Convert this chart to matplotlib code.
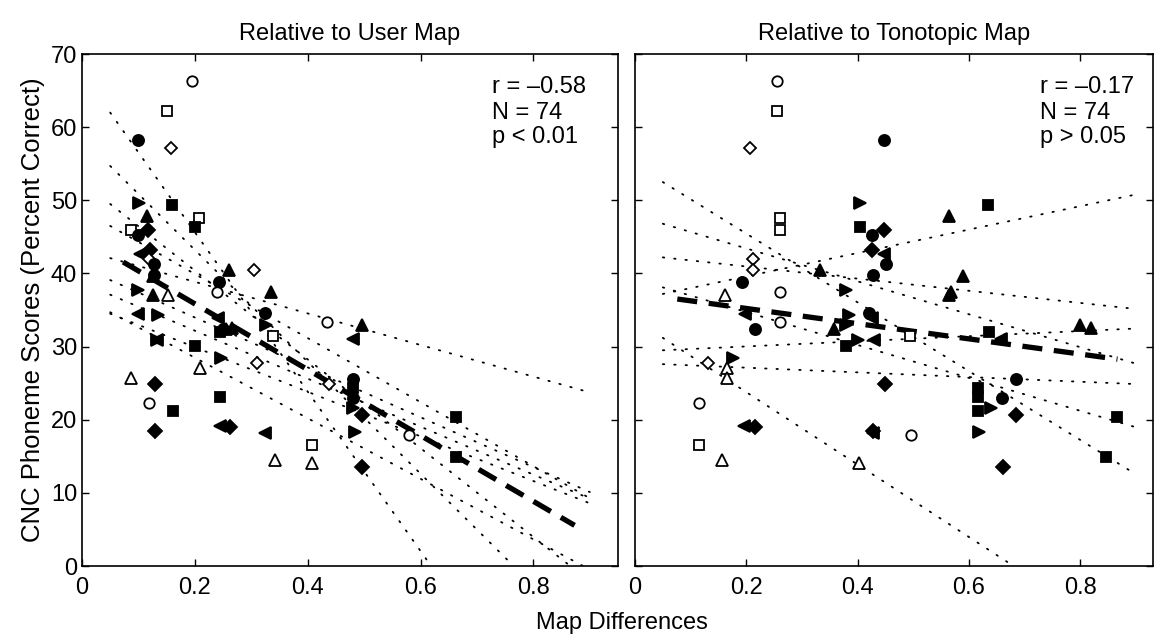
import matplotlib
matplotlib.use("Agg")
import matplotlib.pyplot as plt
import numpy as np

plt.rcParams['font.family'] = ['Liberation Sans', 'DejaVu Sans']

# ---------------- data ----------------
# one entry per subject-condition point: CNC score, map difference (user map), map difference (tonotopic map)
marker_codes = ['oc', 'os', 'fc', 'od', 'fr', 'fs', 'ft', 'os', 'fs', 'os',
                'fd', 'fc', 'fd', 'fl', 'od', 'fc', 'od', 'ft', 'fc', 'ft',
                'fc', 'fr', 'ft', 'oc', 'ot', 'ft', 'fl', 'fr', 'fc', 'fl',
                'oc', 'fr', 'ft', 'ft', 'fc', 'ft', 'fs', 'os', 'fl', 'fr',
                'fl', 'fs', 'fr', 'od', 'ot', 'ot', 'fc', 'od', 'fd', 'fs',
                'fs', 'fc', 'oc', 'fr', 'fs', 'fd', 'fs', 'fl', 'fd', 'fd',
                'fr', 'fl', 'oc', 'os', 'fs', 'ot', 'ot', 'fd']
cnc_score = [66.3, 62.2, 58.2, 57.1, 49.7, 49.4, 47.9, 47.6, 46.3, 46.0,
             45.9, 45.2, 43.2, 42.6, 42.0, 41.3, 40.5, 40.5, 39.8, 39.6,
             38.8, 37.8, 37.4, 37.4, 37.0, 37.0, 34.5, 34.3, 34.6, 33.9,
             33.3, 32.9, 33.0, 32.6, 32.4, 32.4, 32.0, 31.4, 31.0, 30.9,
             30.9, 30.1, 28.4, 27.7, 27.1, 25.7, 25.6, 24.9, 24.9, 24.3,
             23.1, 23.0, 22.3, 21.6, 21.2, 20.6, 20.4, 19.1, 19.0, 18.5,
             18.3, 18.2, 17.9, 16.5, 14.9, 14.5, 14.1, 13.5]
user_diff = [0.195, 0.150, 0.099, 0.158, 0.101, 0.159, 0.115, 0.207, 0.200, 0.087,
             0.117, 0.099, 0.120, 0.103, 0.118, 0.128, 0.304, 0.260, 0.128, 0.125,
             0.242, 0.099, 0.335, 0.240, 0.152, 0.126, 0.099, 0.135, 0.324, 0.241,
             0.435, 0.327, 0.496, 0.265, 0.250, 0.255, 0.244, 0.338, 0.480, 0.133,
             0.133, 0.200, 0.246, 0.310, 0.209, 0.087, 0.481, 0.437, 0.129, 0.480,
             0.244, 0.480, 0.119, 0.480, 0.161, 0.496, 0.662, 0.244, 0.262, 0.129,
             0.483, 0.324, 0.579, 0.407, 0.662, 0.342, 0.407, 0.496]
tono_diff = [0.255, 0.255, 0.448, 0.207, 0.404, 0.634, 0.565, 0.260, 0.404, 0.260,
             0.448, 0.425, 0.425, 0.448, 0.212, 0.451, 0.212, 0.333, 0.428, 0.589,
             0.193, 0.380, 0.568, 0.260, 0.161, 0.565, 0.198, 0.384, 0.420, 0.425,
             0.260, 0.380, 0.800, 0.820, 0.216, 0.357, 0.637, 0.494, 0.658, 0.400,
             0.430, 0.380, 0.177, 0.131, 0.165, 0.165, 0.685, 0.450, 0.450, 0.616,
             0.616, 0.660, 0.115, 0.640, 0.616, 0.685, 0.867, 0.195, 0.216, 0.428,
             0.618, 0.428, 0.496, 0.115, 0.846, 0.156, 0.402, 0.662]

# per-subject regression lines (value at x = 0.05, slope), drawn from x = 0.05 to 0.9
user_sub_int = [62.0, 54.7, 49.5, 46.5, 42.1, 39.1, 37.1, 34.7, 34.5]
user_sub_slope = [-109.0, -76.5, -60.7, -43.8, -21.6, -34.1, -32.8, -41.4, -30.5]
tono_sub_int = [52.5, 46.8, 42.2, 38.1, 37.2, 31.2, 29.5, 27.6]
tono_sub_slope = [-47.0, -22.5, -8.3, -22.5, 16.0, -49.5, 3.5, -3.2]
sub_x_range = [0.05, 0.9]

# overall regression (intercept, slope, x range)
user_fit = [44.85, -45.0]
user_fit_range = [0.073, 0.873]
tono_fit = [37.3, -10.4]
tono_fit_range = [0.076, 0.867]

stats_user = ['r = \u20130.58', 'N = 74', 'p < 0.01']
stats_tono = ['r = \u20130.17', 'N = 74', 'p > 0.05']
stats_y = [65.5, 62.0, 58.6]
titles = ['Relative to User Map', 'Relative to Tonotopic Map']

marker_style = {
    'oc': ('o', False, 7.5), 'os': ('s', False, 6.5), 'od': ('D', False, 6.5),
    'ot': ('^', False, 8), 'fc': ('o', True, 8), 'fs': ('s', True, 7),
    'fd': ('D', True, 7), 'ft': ('^', True, 9), 'fr': ('>', True, 9),
    'fl': ('<', True, 9),
}

FS = 17

fig = plt.figure(figsize=(11.63, 6.36), dpi=100)
axL = fig.add_axes([0.0705, 0.110, 0.4609, 0.805])
axR = fig.add_axes([0.546, 0.110, 0.445, 0.805])


def draw(ax, xs, ints, slopes, fit, fit_rng, stats, title, xmax):
    xx = np.linspace(sub_x_range[0], sub_x_range[1], 200)
    for a, b in zip(ints, slopes):
        ax.plot(xx, a + b * (xx - sub_x_range[0]), color='black', lw=1.3,
                linestyle=(0, (0.8, 5.5)), dash_capstyle='round', zorder=1)
    fx = np.array(fit_rng)
    ax.plot(fx, fit[0] + fit[1] * fx, color='black', lw=3.8,
            linestyle=(0, (3.8, 2.2)), zorder=3)
    for code, y, x in zip(marker_codes, cnc_score, xs):
        m, filled, ms = marker_style[code]
        ax.plot([x], [y], marker=m, ms=ms, mec='black',
                mfc='black' if filled else 'white', mew=1.3,
                linestyle='none', zorder=4)
    ax.set_xlim(0, xmax)
    ax.set_ylim(0, 70)
    ax.set_xticks([0, 0.2, 0.4, 0.6, 0.8])
    ax.set_xticklabels(['0', '0.2', '0.4', '0.6', '0.8'])
    ax.set_yticks(np.arange(0, 71, 10))
    ax.tick_params(direction='in', top=True, right=True, length=5,
                   labelsize=FS, width=1)
    ax.tick_params(axis='x', pad=8)
    for s in ax.spines.values():
        s.set_linewidth(1.2)
    ax.set_title(title, fontsize=FS, pad=10)
    for s, y in zip(stats, stats_y):
        ax.text(0.727, y, s, fontsize=FS, va='center', ha='left')


draw(axL, user_diff, user_sub_int, user_sub_slope, user_fit, user_fit_range,
     stats_user, titles[0], 0.95)
draw(axR, tono_diff, tono_sub_int, tono_sub_slope, tono_fit, tono_fit_range,
     stats_tono, titles[1], 0.93)
axR.set_yticklabels([])
axL.set_ylabel('CNC Phoneme Scores (Percent Correct)', fontsize=18.5, labelpad=4)
fig.text(0.535, 0.003, 'Map Differences', ha='center', va='bottom', fontsize=FS)

fig.savefig('out.png', dpi=100)
